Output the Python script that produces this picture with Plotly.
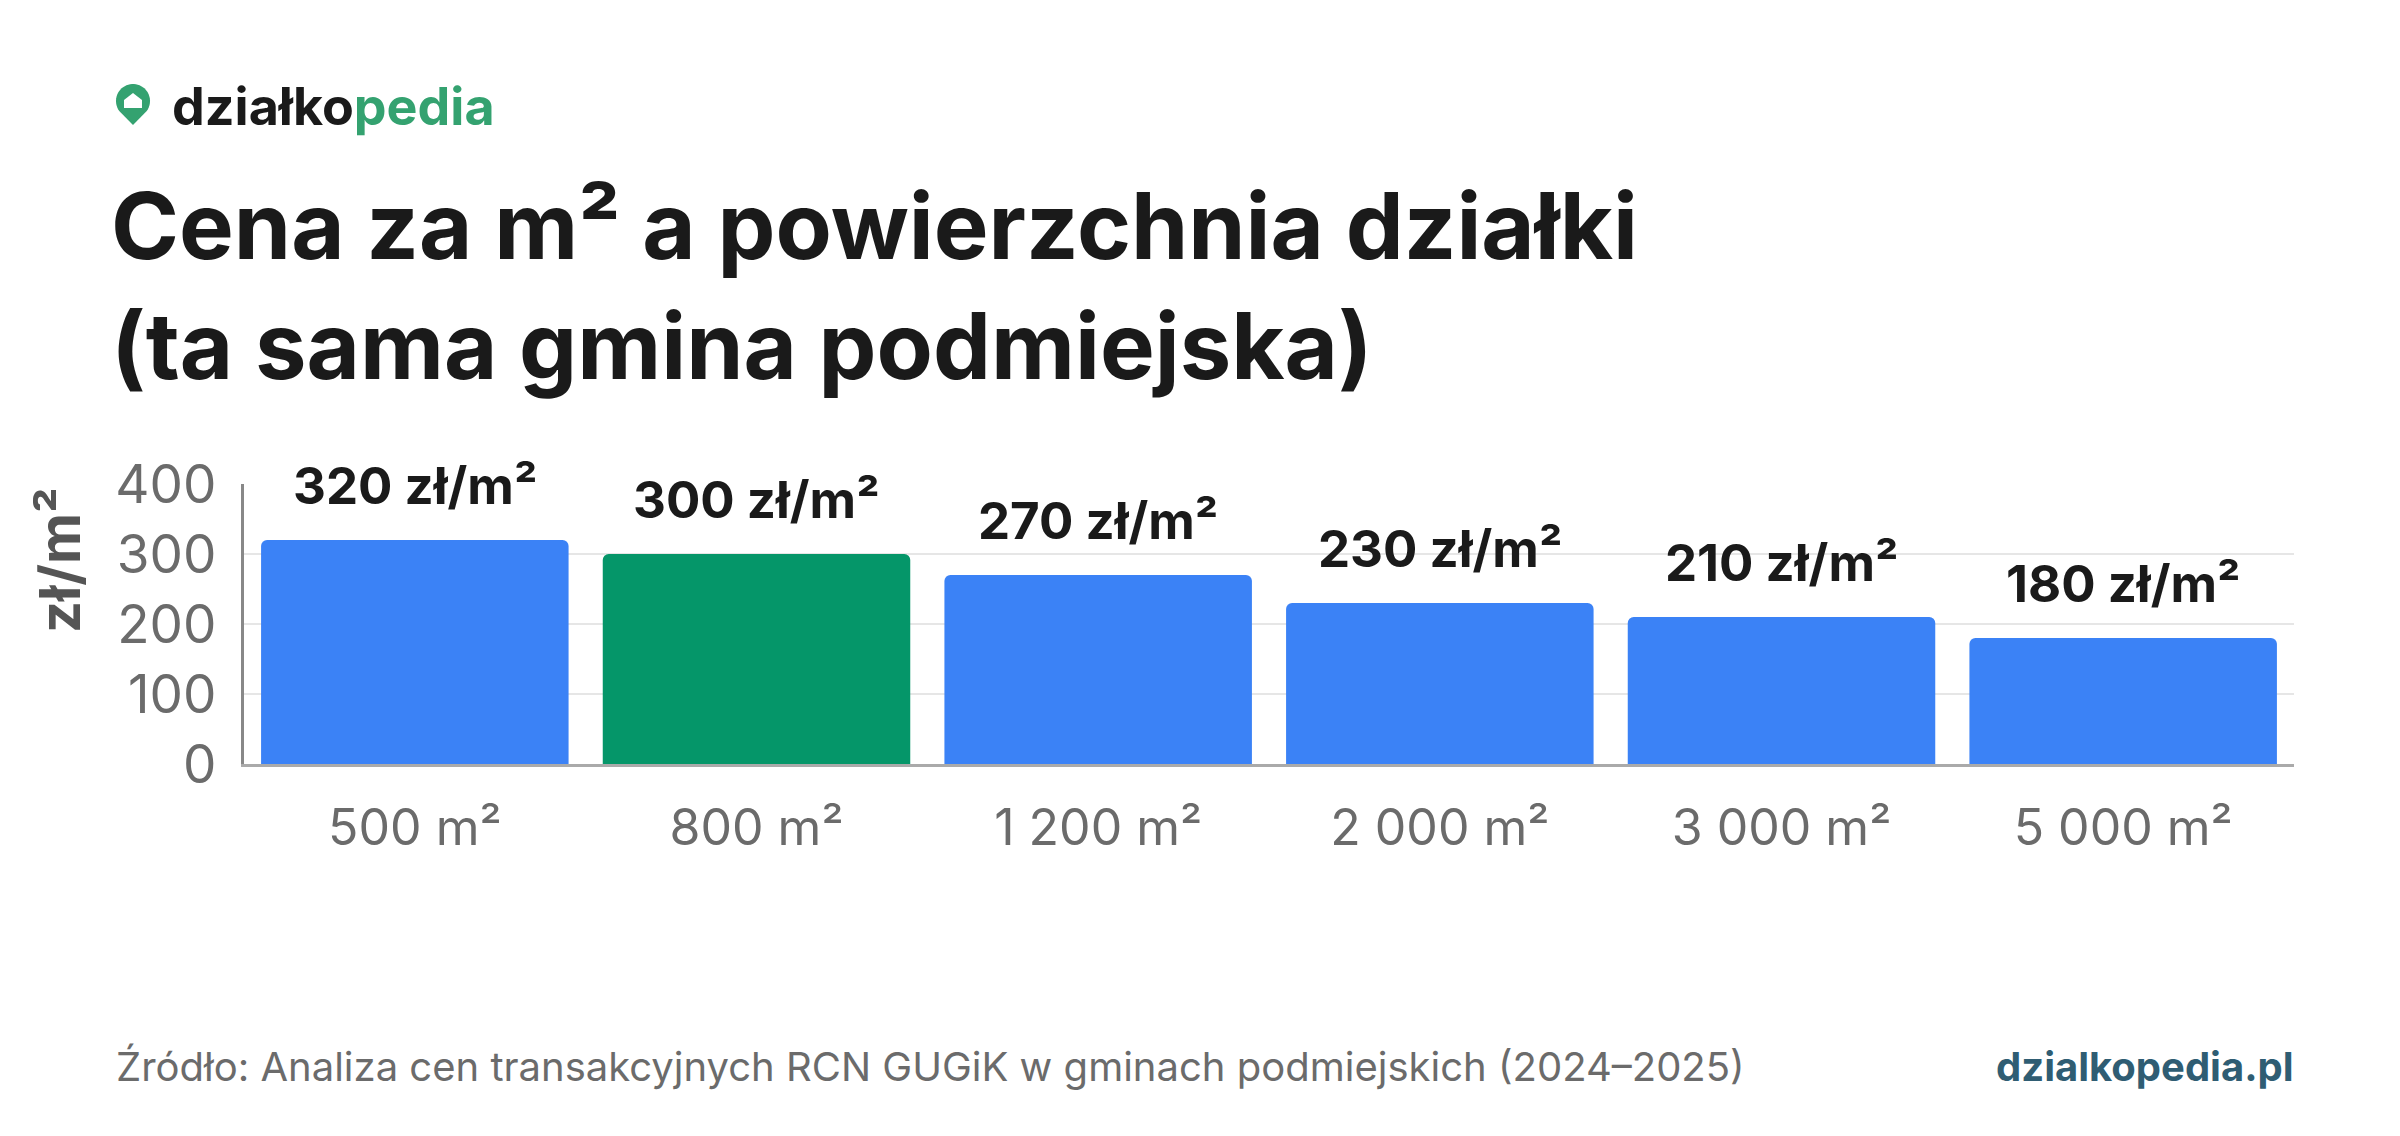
import numpy as np
import plotly.graph_objects as go

categories = ["500 m²", "800 m²", "1 200 m²", "2 000 m²", "3 000 m²", "5 000 m²"]
prices = [320, 300, 270, 230, 210, 180]
bar_colors = ["#3b82f6", "#059669", "#3b82f6", "#3b82f6", "#3b82f6", "#3b82f6"]
y_ticks = [0, 100, 200, 300, 400]

W, H = 2400, 1136
L, R, T, B = 236, 114, 476, 380
PW, PH = W - L - R, H - T - B


def px(x):
    return (x - L) / PW


def py(y):
    return (H - B - y) / PH


def poly(points):
    return "M " + " L ".join(f"{px(x):.5f},{py(y):.5f}" for x, y in points) + " Z"


FONT = "Inter"

fig = go.Figure(
    go.Bar(
        x=categories,
        y=prices,
        marker=dict(color=bar_colors, cornerradius=6, line=dict(width=0)),
        hoverinfo="skip",
    )
)

# bar value labels
for c, v in zip(categories, prices):
    fig.add_annotation(
        x=c, y=v, text=f"<b>{v} zł/m²</b>", showarrow=False,
        yanchor="bottom", yshift=22,
        font=dict(family=FONT, size=51, color="#1a1a1a"),
    )

fig.update_layout(
    width=W,
    height=H,
    margin=dict(l=L, r=R, t=T, b=B),
    paper_bgcolor="white",
    plot_bgcolor="white",
    bargap=0.1,
    showlegend=False,
    font=dict(family=FONT),
    xaxis=dict(
        tickfont=dict(family=FONT, size=50, color="#6b6b6b"),
        ticklabelstandoff=18,
        showline=True,
        linecolor="#aaaaaa",
        linewidth=3,
    ),
    yaxis=dict(
        range=[0, 400],
        tickvals=y_ticks,
        tickfont=dict(family=FONT, size=53, color="#6b6b6b"),
        showgrid=True,
        gridcolor="#e6e6e6",
        gridwidth=2,
        zeroline=False,
        showline=True,
        linecolor="#888888",
        linewidth=3,
        ticklabelstandoff=14,
    ),
)

# logo pin (map marker)
cx, cy, r = 125, 93, 17
ang = np.linspace(np.pi * 1.2, -np.pi * 0.2, 40)
pin = [(cx + r * np.cos(a), cy - r * np.sin(a)) for a in ang] + [(cx, cy + 24)]
fig.add_shape(type="path", xref="paper", yref="paper", path=poly(pin),
              fillcolor="#34a270", line=dict(width=0))
house = [(cx - 9, cy + 7), (cx - 9, cy - 1), (cx, cy - 8), (cx + 9, cy - 1), (cx + 9, cy + 7)]
fig.add_shape(type="path", xref="paper", yref="paper", path=poly(house),
              fillcolor="white", line=dict(width=0))

annotations = [
    dict(
        text="<b>działko<span style='color:#34a270'>pedia</span></b>",
        x=px(162), y=py(98), xanchor="left", yanchor="middle",
        font=dict(family=FONT, size=52, color="#1a1a1a"),
    ),
    dict(
        text="<b>Cena za m² a powierzchnia działki<br>(ta sama gmina podmiejska)</b>",
        x=px(101), y=py(160), xanchor="left", yanchor="top", align="left",
        font=dict(family=FONT, size=92, color="#1a1a1a"),
    ),
    dict(
        text="<b>zł/m²</b>", textangle=-90,
        x=px(52), y=py(552), xanchor="center", yanchor="middle",
        font=dict(family=FONT, size=56, color="#555555"),
    ),
    dict(
        text="Źródło: Analiza cen transakcyjnych RCN GUGiK w gminach podmiejskich (2024–2025)",
        x=px(106), y=py(1058), xanchor="left", yanchor="middle",
        font=dict(family=FONT, size=40, color="#6b6b6b"),
    ),
    dict(
        text="<b>dzialkopedia.pl</b>",
        x=px(2288), y=py(1058), xanchor="right", yanchor="middle",
        font=dict(family=FONT, size=40, color="#2f5d73"),
    ),
]
for a in annotations:
    fig.add_annotation(xref="paper", yref="paper", showarrow=False, **a)

fig.write_html("out.html")
